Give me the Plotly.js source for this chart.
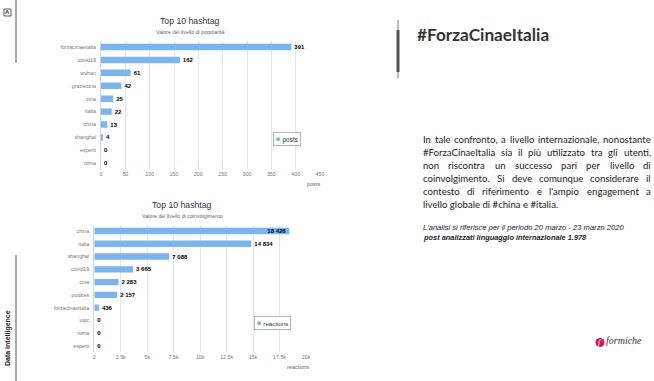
<!DOCTYPE html>
<html><head><meta charset="utf-8">
<script src="https://cdn.plot.ly/plotly-3.0.1.min.js"></script>
<style>html,body{margin:0;padding:0;background:#fff}#chart{width:654px;height:381px}</style>
</head><body><div id="chart"></div>
<script>
// ---- data ----
const popCategories = ['forzacinaeitalia','covid19','wuhan','graziecina','cina','italia','china','shanghai','esperti','roma'];
const popValues = [391,162,61,42,25,22,13,4,0,0];
const popTicks = [0,50,100,150,200,250,300,350,400,450];

const engCategories = ['china','italia','shanghai','covid19','cina','pudtres','forzacinaeitalia','uqic','roma','esperti'];
const engValues = [18426,14834,7088,3665,2283,2157,436,0,0,0];
const engTicks = [0,2500,5000,7500,10000,12500,15000,17500,20000];
const engTickText = ['0','2.5k','5k','7.5k','10k','12.5k','15k','17.5k','20k'];

const paragraph = [
 'In tale confronto, a livello internazionale, nonostante',
 '#ForzaCinaeItalia sia il più utilizzato tra gli utenti,',
 'non riscontra un successo pari per livello di',
 'coinvolgimento. Si deve comunque considerare il',
 "contesto di riferimento e l'ampio engagement a",
 'livello globale di #china e #italia.'
];

// ---- helpers ----
const W = 654, H = 381;
const px = x => x / W, py = y => 1 - y / H;
const fmt = v => String(v).replace(/\B(?=(\d{3})+(?!\d))/g, ' ');
const barColor = '#7cb5ec';
const base = 'Liberation Sans, Arial, sans-serif';

const traces = [
 {type:'bar', orientation:'h', x:popValues, y:popCategories, xaxis:'x', yaxis:'y',
  marker:{color:barColor}, text:popValues.map(fmt), textposition:'outside',
  textfont:{family:base, size:6, color:'#000', weight:700}, cliponaxis:false,
  name:'posts', showlegend:false, hoverinfo:'x+y'},
 {type:'bar', orientation:'h', x:engValues, y:engCategories, xaxis:'x2', yaxis:'y2',
  marker:{color:barColor}, text:engValues.map(fmt),
  textposition:engValues.map((v,i)=> i===0 ? 'inside' : 'outside'),
  insidetextanchor:'end', constraintext:'none',
  textfont:{family:base, size:6, color:'#000', weight:700},
  insidetextfont:{family:base, size:6, color:'#000', weight:700},
  outsidetextfont:{family:base, size:6, color:'#000', weight:700},
  cliponaxis:false, name:'reactions', showlegend:false, hoverinfo:'x+y'}
];

const tickFont = {family:base, size:5.3, color:'#777'};
const xCommon = {showgrid:true, gridcolor:'#e6e6e6', gridwidth:1, zeroline:false, ticks:'', showline:false, tickfont:tickFont, fixedrange:true};
const yCommon = {type:'category', autorange:'reversed', showgrid:false, zeroline:false, ticks:'', showline:true, linecolor:'#ccd6eb', linewidth:1, tickfont:tickFont, ticklabelstandoff:3, fixedrange:true};

const annotations = [];
const A = (x,y,text,font,opts={}) => annotations.push(Object.assign({xref:'paper',yref:'paper',x:px(x),y:py(y),text,showarrow:false,font,borderpad:0,xanchor:'center',yanchor:'middle'},opts));

// chart titles
A(190,21,'Top 10 hashtag',{family:base,size:8.7,color:'#333'});
A(190,32,'Valore del livello di popolarità',{family:base,size:5.3,color:'#666'});
A(182,205,'Top 10 hashtag',{family:base,size:8.7,color:'#333'});
A(182,216,'Valore del livello di coinvolgimento',{family:base,size:5.3,color:'#666'});
// axis titles
A(321,184,'posts',{family:base,size:5.5,color:'#666'},{xanchor:'right'});
A(311,367,'reactions',{family:base,size:5.5,color:'#666'},{xanchor:'right'});
// legends
const dot = '<span style="color:'+barColor+';font-size:9px">●</span> ';
A(286.5,139,dot+'posts',{family:base,size:6.5,color:'#333'},{bordercolor:'#999',borderwidth:0.7,borderpad:1.5,bgcolor:'#fff'});
A(272,322.5,dot+'reactions',{family:base,size:6.2,color:'#333'},{bordercolor:'#999',borderwidth:0.7,borderpad:1.5,bgcolor:'#fff'});

// right heading
A(416,35,'#ForzaCinaeItalia',{family:'Lato, sans-serif',size:17.2,color:'#333',weight:700},{xanchor:'left'});

// paragraph, justified
const pFont = {family:'Lato, sans-serif', size:9.6, color:'#222'};
const ctx = document.createElement('canvas').getContext('2d');
ctx.font = pFont.size + 'px Lato';
const x0 = 422, x1 = 650;
const lineY = [139,152,165,178,191,204];
paragraph.forEach((line,li)=>{
  const y = lineY[li];
  if (li === paragraph.length-1) { A(x0,y,line,pFont,{xanchor:'left'}); return; }
  const words = line.split(' ');
  const ws = words.map(w=>ctx.measureText(w).width);
  const gap = (x1 - x0 - ws.reduce((a,b)=>a+b,0)) / (words.length-1);
  let x = x0;
  words.forEach((w,i)=>{ A(x,y,w,pFont,{xanchor:'left'}); x += ws[i] + gap; });
});
// footnotes
A(422,227,"L'analisi si riferisce per il periodo 20 marzo - 23 marzo 2020",{family:'Liberation Sans Narrow, sans-serif',size:7.6,color:'#222',style:'italic'},{xanchor:'left'});
A(422,237,'post analizzati linguaggio internazionale 1.978',{family:'Liberation Sans Narrow, sans-serif',size:7.4,color:'#222',style:'italic',weight:700},{xanchor:'left'});

// side labels
A(8,338,'Data intelligence',{family:'Liberation Sans Narrow, sans-serif',size:7,color:'#222',weight:700},{textangle:-90});
A(7.5,12.5,'A',{family:base,size:6,color:'#333',weight:700});

// logo
A(600,342.5,'f',{family:'Liberation Serif, serif',size:8,color:'#fff',style:'italic'});
A(605,340.5,'formiche',{family:'Liberation Serif, serif',size:10,color:'#333',style:'italic'},{xanchor:'left'});

const L = (x0,y0,x1,y1,color,width)=>({type:'line',xref:'paper',yref:'paper',x0:px(x0),y0:py(y0),x1:px(x1),y1:py(y1),line:{color,width}});
const shapes = [
  L(16,0,16,63,'#555',1),
  L(16,255,16,381,'#555',1),
  L(398,20,398,78,'#777',1),
  L(398,30,398,72,'#555',3),
  {type:'rect',xref:'paper',yref:'paper',x0:px(4),x1:px(11),y0:py(16),y1:py(9),line:{color:'#333',width:0.8}},
  {type:'circle',xref:'paper',yref:'paper',x0:px(595.5),x1:px(604.5),y0:py(347),y1:py(338),fillcolor:'#d2185c',line:{width:0}}
];

const layout = {
  width:W, height:H, margin:{l:0,r:0,t:0,b:0}, paper_bgcolor:'#fff', plot_bgcolor:'#fff',
  showlegend:false, bargap:0.5,
  xaxis: Object.assign({}, xCommon, {domain:[px(101),px(320)], range:[0,450], tickvals:popTicks, anchor:'y'}),
  yaxis: Object.assign({}, yCommon, {domain:[py(169.8),py(40.5)], categoryarray:popCategories, anchor:'x'}),
  xaxis2: Object.assign({}, xCommon, {domain:[px(94.3),px(306)], range:[0,20000], tickvals:engTicks, ticktext:engTickText, anchor:'y2'}),
  yaxis2: Object.assign({}, yCommon, {domain:[py(352.4),py(224.6)], categoryarray:engCategories, anchor:'x2'}),
  annotations, shapes,
  font:{family:base}
};
Plotly.newPlot('chart', traces, layout, {displayModeBar:false, staticPlot:true});
</script>
</body></html>
